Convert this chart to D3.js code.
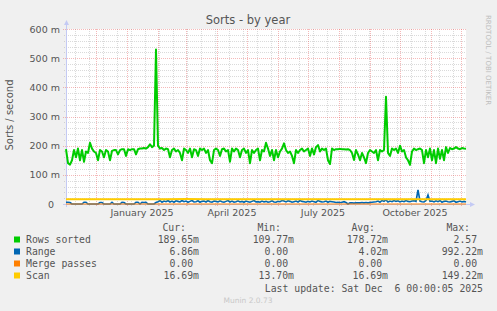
<!DOCTYPE html>
<html><head><meta charset="utf-8">
<script src="https://cdn.jsdelivr.net/npm/d3@7"></script>
<style>html,body{margin:0;padding:0;background:#F0F0F0;} svg{display:block;}</style>
</head><body><svg id="c" width="497" height="311"></svg>
<script>
// ---------- data ----------
const startDate = "2024-11-01";
const endDate = "2025-12-06";
const stepDays = 2;          // sampling of the series below
const scanStepDays = 20;

// Rows sorted (milli-sorts / second)
const rowsSorted = [
  188,140,135,150,185,160,190,150,185,145,
  180,175,210,190,180,175,150,185,180,160,
  185,180,150,182,185,185,170,185,188,188,
  165,188,185,188,188,170,188,190,190,192,
  190,195,205,195,200,530,200,190,192,185,
  190,188,160,185,190,180,185,175,150,190,
  185,175,190,160,188,185,165,190,185,190,
  175,185,150,140,185,190,185,165,188,190,
  180,185,145,190,180,190,185,160,185,190,
  175,185,140,185,175,185,190,150,185,180,
  210,190,165,185,150,185,160,180,190,208,
  185,175,180,165,140,185,175,185,190,180,
  185,190,165,190,170,195,202,180,190,185,
  190,150,137,190,185,188,188,189,188,188,
  187,188,185,175,151,185,170,150,175,160,
  140,175,185,180,175,185,150,185,180,185,
  368,175,165,190,185,190,175,200,180,185,
  160,150,134,180,190,185,188,190,185,140,
  185,160,190,150,185,140,190,155,185,150,
  195,175,192,188,190,195,190,188,192,190,
  189.65
];
// Range
const rangeVals = [
  6,6,5,0,0,0,0,0,0,6,
  6,0,0,0,0,0,0,5,5,0,
  0,0,0,6,0,0,0,0,6,5,
  0,0,0,0,0,6,6,0,6,5,
  6,0,0,0,0,5,8,12,6,10,
  8,12,7,10,6,11,9,7,12,8,
  10,6,9,12,7,8,11,6,9,10,
  7,12,8,6,10,9,7,11,8,6,
  9,12,7,10,6,8,11,7,9,6,
  10,8,6,9,12,7,8,6,10,7,
  9,6,8,11,7,6,9,8,12,10,
  7,11,9,6,8,10,7,12,9,8,
  6,9,7,10,8,6,12,9,7,8,
  10,6,9,8,7,5,6,5,6,8,
  5,0,4,4,3,4,4,4,5,4,
  5,4,5,6,7,8,10,6,12,9,
  14,7,10,8,12,9,11,7,10,8,
  12,9,8,10,11,9,48,10,8,7,
  12,31,9,10,7,11,8,12,6,9,
  10,8,7,9,11,6,8,10,7,9,
  6.86
];
// Merge passes (constant zero)
const mergePasses = [0,0];
// Scan
const scan = [16.7,16.7,16.6,16.7,16.7,16.7,16.8,16.7,16.7,16.7,16.7,
              16.7,16.6,16.7,16.7,16.7,16.7,16.7,16.7,16.7,16.69];

const yTicks = [0,100,200,300,400,500,600];
const yTickLabels = ["0","100 m","200 m","300 m","400 m","500 m","600 m"];
const xLabels = ["January 2025","April 2025","July 2025","October 2025"];
const xLabelDates = ["2025-01-16","2025-04-16","2025-07-16","2025-10-16"];

const legendNames = ["Rows sorted","Range","Merge passes","Scan"];
const legendColors = ["#00CC00","#0066B3","#FF8000","#FFCC00"];
const curVals = ["189.65m","6.86m","0.00 ","16.69m"];
const minVals = ["109.77m","0.00 ","0.00 ","13.70m"];
const avgVals = ["178.72m","4.02m","0.00 ","16.69m"];
const maxVals = ["2.57 ","992.22m","0.00 ","149.22m"];

// ---------- drawing ----------
const svg = d3.select("#c");
const X0 = 66, X1 = 466, Y0 = 204, Y1 = 29;
const start = new Date(startDate), end = new Date(endDate);
const x = d3.scaleUtc().domain([start, end]).range([X0, X1]);
const y = d3.scaleLinear().domain([0, 600]).range([Y0, Y1]);
const DAY = 86400000;
const toPts = (arr, step) => arr.map((v, i) => ({d: new Date(start.getTime() + i*step*DAY), v}));

svg.append("rect").attr("width",497).attr("height",311).attr("fill","#F0F0F0");
svg.append("rect").attr("x",X0).attr("y",Y1).attr("width",X1-X0).attr("height",Y0-Y1).attr("fill","#FFFFFF");

const FONT = "DejaVu Sans, sans-serif";
const MONO = "DejaVu Sans Mono, monospace";
const grid = svg.append("g").attr("shape-rendering","crispEdges");
const GRAY = "rgba(140,140,140,0.32)", RED = "rgba(230,70,70,0.38)";

// horizontal minor grid (20 m)
const minorY = d3.range(0, 601, 20).filter(v => v % 100 !== 0);
grid.selectAll(".hm").data(minorY).join("line")
  .attr("x1",X0-2).attr("x2",X1).attr("y1",d=>Math.round(y(d))+0.5).attr("y2",d=>Math.round(y(d))+0.5)
  .attr("stroke",GRAY).attr("stroke-dasharray","1,1");
// vertical minor grid (every 2 weeks)
const weekTicks = d3.utcSunday.range(new Date("2024-11-10"), end, 2);
grid.selectAll(".vm").data(weekTicks).join("line")
  .attr("x1",d=>Math.round(x(d))+0.5).attr("x2",d=>Math.round(x(d))+0.5).attr("y1",Y1).attr("y2",Y0+2)
  .attr("stroke",GRAY).attr("stroke-dasharray","1,1");
// major horizontal grid
grid.selectAll(".hM").data(yTicks).join("line")
  .attr("x1",X0-3).attr("x2",X1).attr("y1",d=>Math.round(y(d))+0.5).attr("y2",d=>Math.round(y(d))+0.5)
  .attr("stroke",RED).attr("stroke-dasharray","1,1");
// major vertical grid (month starts)
const months = d3.utcMonth.range(new Date("2024-12-01"), end);
grid.selectAll(".vM").data(months).join("line")
  .attr("x1",d=>Math.round(x(d))+0.5).attr("x2",d=>Math.round(x(d))+0.5).attr("y1",Y1).attr("y2",Y0+3)
  .attr("stroke",RED).attr("stroke-dasharray","1,1");

// axes lines
const axisCol = "#C4CAF4";
svg.append("line").attr("x1",X0+0.5).attr("x2",X0+0.5).attr("y1",Y0+3).attr("y2",24).attr("stroke",axisCol);
svg.append("path").attr("d",`M${X0-2},25 L${X0+0.5},20 L${X0+3},25 Z`).attr("fill",axisCol);
svg.append("line").attr("x1",X0-3).attr("x2",X1+5).attr("y1",Y0+0.5).attr("y2",Y0+0.5).attr("stroke",axisCol);
svg.append("path").attr("d",`M${X1+4},${Y0-2} L${X1+9},${Y0+0.5} L${X1+4},${Y0+3} Z`).attr("fill",axisCol);

// y labels
svg.selectAll(".yl").data(yTicks).join("text")
  .attr("x",(d,i)=> i===0 ? 54 : 60).attr("y",d=>y(d)+3.5)
  .attr("text-anchor","end").attr("font-family",FONT).attr("font-size","9.5px").attr("fill","#555")
  .text((d,i)=>yTickLabels[i]);
// x labels
svg.selectAll(".xl").data(xLabels).join("text")
  .attr("x",(d,i)=>x(new Date(xLabelDates[i]))).attr("y",216)
  .attr("text-anchor","middle").attr("font-family",FONT).attr("font-size","9.5px").attr("fill","#555")
  .text(d=>d);

// series
const line = d3.line().x(p=>x(p.d)).y(p=>y(p.v));
svg.append("path").datum(toPts(rowsSorted,stepDays)).attr("d",line)
  .attr("fill","none").attr("stroke",legendColors[0]).attr("stroke-width",2).attr("stroke-linejoin","round");
svg.append("path").datum(toPts(rangeVals,stepDays)).attr("d",line)
  .attr("fill","none").attr("stroke",legendColors[1]).attr("stroke-width",1.6);
svg.append("path").datum(mergePasses.map((v,i)=>({d: i===0?start:end, v}))).attr("d",line)
  .attr("fill","none").attr("stroke",legendColors[2]).attr("stroke-width",1);
svg.append("path").datum(toPts(scan,scanStepDays)).attr("d",line)
  .attr("fill","none").attr("stroke",legendColors[3]).attr("stroke-width",2);

// title
svg.append("text").attr("x",248).attr("y",24).attr("text-anchor","middle")
  .attr("font-family",FONT).attr("font-size","11.5px").attr("fill","#555").text("Sorts - by year");
// y axis title
svg.append("text").attr("transform","translate(13,115) rotate(-90)").attr("text-anchor","middle")
  .attr("font-family",FONT).attr("font-size","10px").attr("fill","#555").text("Sorts / second");
// side watermark
svg.append("text").attr("transform","translate(486,15) rotate(90)").attr("text-anchor","start")
  .attr("font-family",FONT).attr("font-size","7px").attr("fill","#BDBDBD").text("RRDTOOL / TOBI OETIKER");

// legend
const lg = svg.append("g").attr("font-family",MONO).attr("font-size","9.8px").attr("fill","#555");
const colEnds = [199,294,388,483];
const heads = ["Cur:","Min:","Avg:","Max:"];
heads.forEach((h,j)=> lg.append("text").attr("x",colEnds[j]-13).attr("y",230.5).attr("text-anchor","end").text(h));
legendNames.forEach((n,i)=>{
  const by = 242.5 + i*12;
  lg.append("rect").attr("x",14).attr("y",by-6).attr("width",6).attr("height",6).attr("fill",legendColors[i]);
  lg.append("text").attr("x",26).attr("y",by).text(n);
  [curVals,minVals,avgVals,maxVals].forEach((arr,j)=>{
    const s = arr[i];
    const trail = s.endsWith(" ");
    lg.append("text").attr("x",colEnds[j] - (trail?5.9:0)).attr("y",by).attr("text-anchor","end").text(s.trim());
  });
});
lg.append("text").attr("x",483).attr("y",291.5).attr("text-anchor","end").attr("xml:space","preserve")
  .text("Last update: Sat Dec  6 00:00:05 2025");
svg.append("text").attr("x",248).attr("y",303).attr("text-anchor","middle")
  .attr("font-family",FONT).attr("font-size","7.5px").attr("fill","#C8C8C8").text("Munin 2.0.73");
</script></body></html>
